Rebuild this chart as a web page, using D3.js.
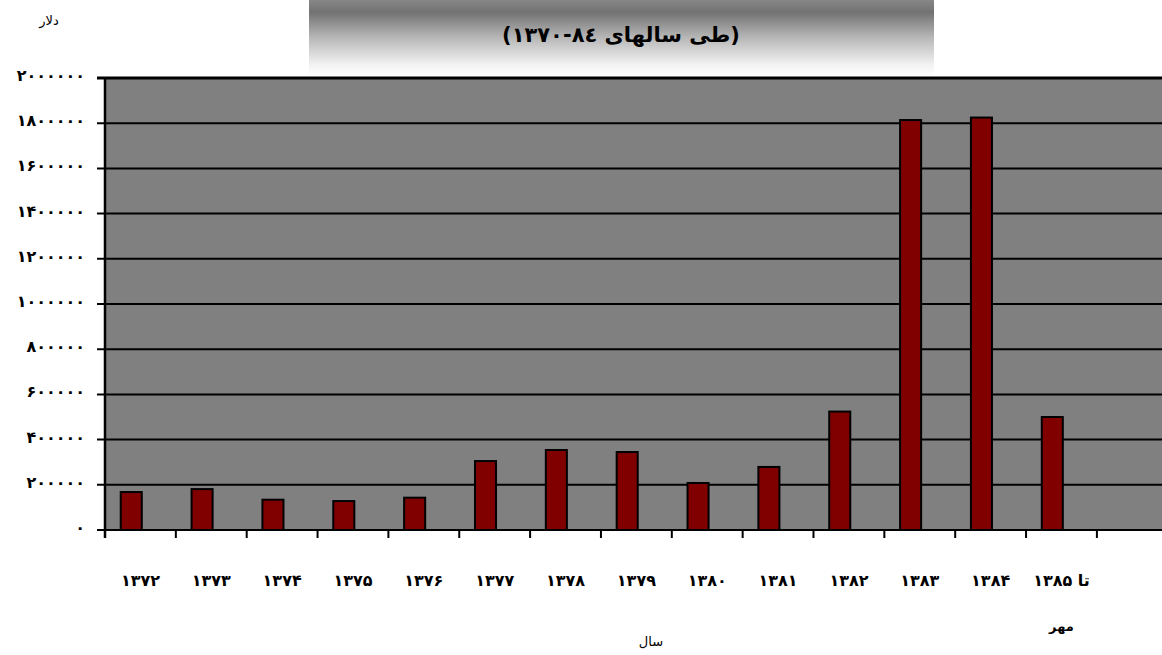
<!DOCTYPE html>
<html>
<head>
<meta charset="utf-8">
<script src="https://cdn.jsdelivr.net/npm/d3@7"></script>
<style>
  body { margin: 0; background: #fff; }
  text { font-family: "DejaVu Sans", sans-serif; }
</style>
</head>
<body>
<div id="chart"></div>
<script>
// data (dollars per year)
var years = ["1372", "1373", "1374", "1375", "1376", "1377", "1378", "1379", "1380", "1381", "1382", "1383", "1384", "1385m", "blank"];
var yearLabels = [["۱۳۷۲"], ["۱۳۷۳"], ["۱۳۷۴"], ["۱۳۷۵"], ["۱۳۷۶"], ["۱۳۷۷"], ["۱۳۷۸"], ["۱۳۷۹"], ["۱۳۸۰"], ["۱۳۸۱"], ["۱۳۸۲"], ["۱۳۸۳"], ["۱۳۸۴"], ["تا ۱۳۸۵", "مهر"], [""]];
var values = [168000, 181000, 134000, 128000, 143000, 305000, 354000, 345000, 208000, 279000, 524000, 1814000, 1825000, 500000, null];
var yTicks = [0, 200000, 400000, 600000, 800000, 1000000, 1200000, 1400000, 1600000, 1800000, 2000000];

var titleLine = "(طی سالهای ۸٤-۱۳۷۰)";
var yTitle = "دلار";
var xTitle = "سال";

var svgWidth = 1162, svgHeight = 655;
var margin = { top: 78, left: 105 };
var bandW = 70.85;
var width = bandW * years.length;
var height = 452;

var faDigits = "۰۱۲۳۴۵۶۷۸۹";
function toFa(s) {
  return String(s).replace(/[0-9]/g, function(d) { return faDigits[+d]; });
}

var svg = d3.select("#chart")
  .append("svg")
  .attr("width", svgWidth)
  .attr("height", svgHeight);

// title box with gradient
var defs = svg.append("defs");
var grad = defs.append("linearGradient")
  .attr("id", "titleGrad")
  .attr("x1", 0).attr("y1", 0).attr("x2", 0).attr("y2", 1);
grad.append("stop").attr("offset", "0%").attr("stop-color", "#878787");
grad.append("stop").attr("offset", "16%").attr("stop-color", "#727272");
grad.append("stop").attr("offset", "50%").attr("stop-color", "#b8b8b8");
grad.append("stop").attr("offset", "85%").attr("stop-color", "#f2f2f2");
grad.append("stop").attr("offset", "100%").attr("stop-color", "#ffffff");

svg.append("rect")
  .attr("x", 309).attr("y", 0)
  .attr("width", 625).attr("height", 76)
  .attr("fill", "url(#titleGrad)");

svg.append("text")
  .attr("x", 621).attr("y", 42)
  .attr("text-anchor", "middle")
  .attr("direction", "rtl")
  .style("font-size", "21px")
  .style("font-weight", "bold")
  .text(titleLine);

var chart = svg.append("g")
  .attr("transform", "translate(" + margin.left + "," + margin.top + ")");

var x = d3.scaleBand()
  .domain(years)
  .range([0, width])
  .paddingInner(0)
  .paddingOuter(0);

var y = d3.scaleLinear()
  .domain([0, 2000000])
  .range([height, 0]);

// plot background
chart.append("rect")
  .attr("x", 0).attr("y", 0)
  .attr("width", width).attr("height", height)
  .attr("fill", "#808080");

// gridlines
chart.selectAll(".grid")
  .data(yTicks)
  .enter().append("line")
  .attr("class", "grid")
  .attr("x1", -8).attr("x2", width)
  .attr("y1", function(d) { return y(d); })
  .attr("y2", function(d) { return y(d); })
  .attr("stroke", "#000")
  .attr("stroke-width", function(d) { return d === 2000000 ? 3 : 2; });

// y tick labels
chart.selectAll(".ylab")
  .data(yTicks)
  .enter().append("text")
  .attr("class", "ylab")
  .attr("x", -20)
  .attr("y", function(d) { return y(d) + 3; })
  .attr("text-anchor", "end")
  .style("font-size", "16px")
  .style("font-weight", "bold")
  .style("letter-spacing", "2px")
  .text(function(d) { return toFa(d); });

// bars
chart.selectAll(".bar")
  .data(values.map(function(v, i) { return { year: years[i], value: v }; })
    .filter(function(d) { return d.value !== null; }))
  .enter().append("rect")
  .attr("class", "bar")
  .attr("x", function(d) { return x(d.year) + bandW * 0.222; })
  .attr("width", bandW * 0.297)
  .attr("y", function(d) { return y(d.value); })
  .attr("height", function(d) { return height - y(d.value); })
  .attr("fill", "#800000")
  .attr("stroke", "#000")
  .attr("stroke-width", 2);

// x axis line and ticks
chart.append("line")
  .attr("x1", 0).attr("x2", width)
  .attr("y1", height).attr("y2", height)
  .attr("stroke", "#000").attr("stroke-width", 2);

chart.append("line")
  .attr("x1", 0).attr("x2", 0)
  .attr("y1", 0).attr("y2", height + 8)
  .attr("stroke", "#000").attr("stroke-width", 2.5);

chart.selectAll(".xtick")
  .data(years)
  .enter().append("line")
  .attr("class", "xtick")
  .attr("x1", function(d) { return x(d) + bandW; })
  .attr("x2", function(d) { return x(d) + bandW; })
  .attr("y1", height).attr("y2", height + 8)
  .attr("stroke", "#000").attr("stroke-width", 2);

// x labels
var xlab = chart.selectAll(".xlab")
  .data(years)
  .enter().append("text")
  .attr("class", "xlab")
  .attr("text-anchor", "middle")
  .attr("direction", "rtl")
  .style("font-size", "16px")
  .style("font-weight", "bold")
  .attr("transform", function(d) { return "translate(" + (x(d) + bandW / 2) + "," + (height + 56) + ")"; });

xlab.each(function(d, i) {
  var t = d3.select(this);
  yearLabels[i].forEach(function(line, j) {
    t.append("tspan")
      .attr("x", 0)
      .attr("dy", j === 0 ? 0 : 45)
      .style("font-size", j === 0 ? "16px" : "13px")
      .text(line);
  });
});

// axis titles
svg.append("text")
  .attr("x", 49).attr("y", 25)
  .attr("text-anchor", "middle")
  .style("font-size", "13px")
  .text(yTitle);

svg.append("text")
  .attr("x", 651).attr("y", 646)
  .attr("text-anchor", "middle")
  .style("font-size", "13px")
  .text(xTitle);
</script>
</body>
</html>
